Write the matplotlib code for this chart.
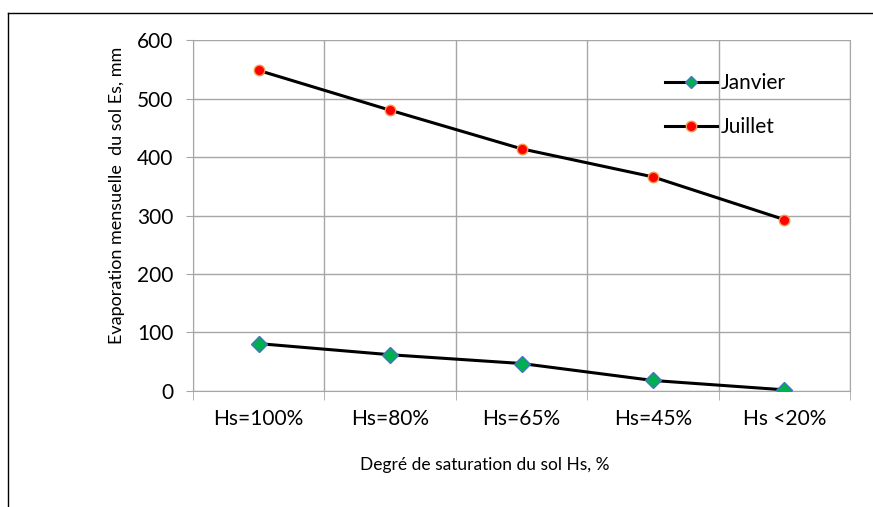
import matplotlib.pyplot as plt
from matplotlib.lines import Line2D

categories = ['Hs=100%', 'Hs=80%', 'Hs=65%', 'Hs=45%', 'Hs <20%']
janvier = [81, 62, 47, 18, 2]
juillet = [548, 480, 414, 366, 293]

plt.rcParams['font.family'] = ['Lato', 'DejaVu Sans']

fig = plt.figure(figsize=(8.73, 5.07), dpi=100)
ax = fig.add_axes([0.2211, 0.2288, 0.7526, 0.6923])

x = range(len(categories))
ax.plot(x, janvier, color='black', lw=2.2, marker='D', ms=8,
        mfc='#00b050', mec='#4472c4', mew=1, label='Janvier', zorder=3)
ax.plot(x, juillet, color='black', lw=2.2, marker='o', ms=7.5,
        mfc='#ff0000', mec='#f79646', mew=1, label='Juillet', zorder=3)

ax.set_xlim(-0.5, 4.5)
ax.set_ylim(0, 600)
ax.set_yticks(range(0, 601, 100))
ax.set_xticks(list(x))
ax.set_xticklabels(categories)
ax.set_xticks([i - 0.5 for i in range(6)], minor=True)

# gridlines sit between categories, like a spreadsheet chart
ax.grid(True, which='major', axis='y', color='#a6a6a6', lw=1)
ax.grid(True, which='minor', axis='x', color='#a6a6a6', lw=1)
ax.tick_params(axis='x', which='major', length=0, pad=13, labelsize=15)
ax.tick_params(axis='x', which='minor', length=6.5, color='#a6a6a6')
ax.tick_params(axis='y', length=5, color='#a6a6a6', pad=9, labelsize=15)
for s in ax.spines.values():
    s.set_color('#a6a6a6')
ax.spines['top'].set_visible(False)

ax.set_xlabel('Degré de saturation du sol Hs, %', fontsize=12.5)
ax.xaxis.set_label_coords(0.444, -0.211)
ax.xaxis.label.set_va('center')
ax.set_ylabel('Evaporation mensuelle  du sol Es, mm', fontsize=13)
ax.yaxis.set_label_coords(-0.1157, 0.558)
ax.yaxis.label.set_va('center')

leg = ax.legend(loc='upper left', bbox_to_anchor=(0.718, 0.905), frameon=False,
                fontsize=15, handlelength=2.5, handletextpad=0.2,
                labelspacing=1.15, borderpad=0, borderaxespad=0)
leg.legend_handles[0].set_markersize(6)
leg.legend_handles[1].set_markersize(7.5)

# outer chart border (left and top edges only)
fig.add_artist(Line2D([8 / 873, 8 / 873], [0, 1 - 13 / 507], color='black', lw=1))
fig.add_artist(Line2D([8 / 873, 1], [1 - 13 / 507, 1 - 13 / 507], color='black', lw=1))

fig.savefig('out.png', dpi=100)
